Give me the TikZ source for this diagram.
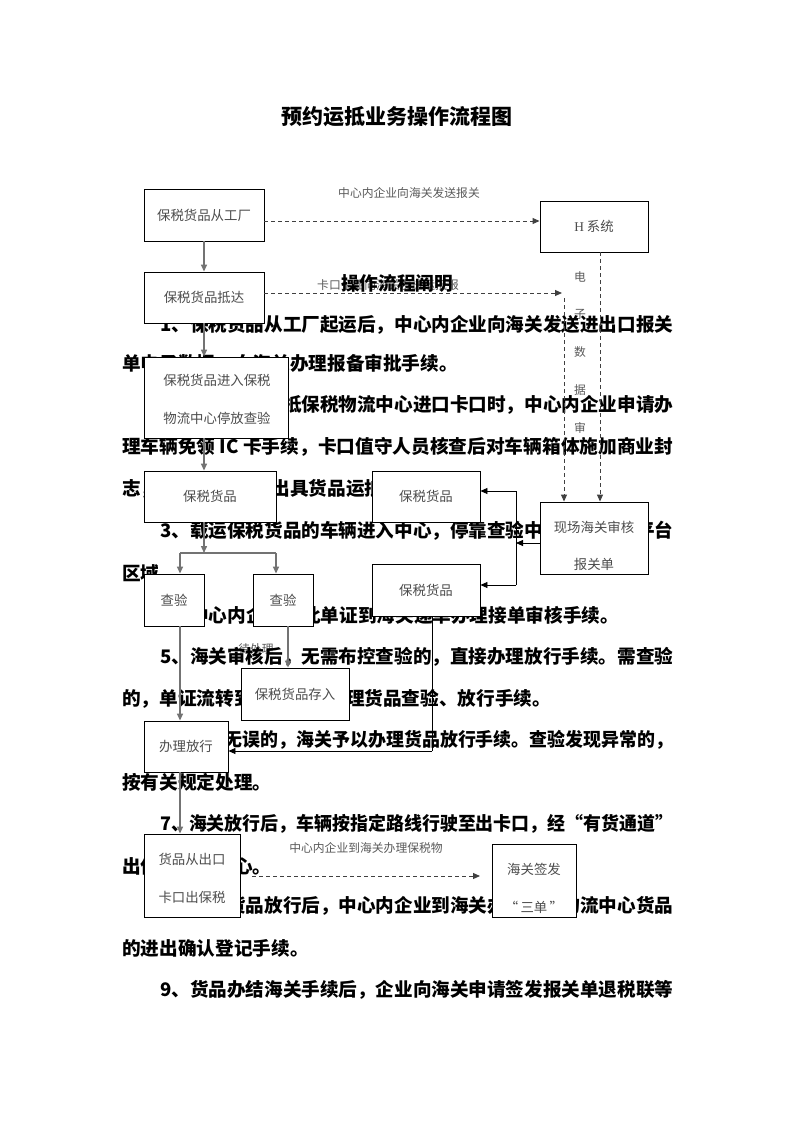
\documentclass[tikz,border=0pt]{standalone}
\usepackage{graphicx}
\usepackage{fontspec}
\setmainfont{Noto Sans CJK SC}
\newfontfamily\cjk{Noto Sans CJK SC}
\newfontfamily\lserif{Liberation Serif}
\usetikzlibrary{arrows.meta}
\newcommand\myBody{\cjk\bfseries\fontsize{18.65}{20}\selectfont}
\newcommand\myTitle{\cjk\bfseries\fontsize{21}{23}\selectfont}
\newcommand\myBox{\cjk\fontsize{13.4}{15}\selectfont}
\newcommand\myLbl{\cjk\fontsize{11.8}{13}\selectfont}
\newcommand\fitI[1]{\resizebox{513pt}{\height}{#1}}
\newcommand\fitF[1]{\resizebox{551pt}{\height}{#1}}
\begin{document}
\begin{tikzpicture}[x=1pt,y=-1pt,
  body/.style={anchor=west,inner sep=0pt,font=\myBody,text=black},
  ttl/.style={inner sep=0pt,font=\myTitle,text=black},
  boxn/.style={draw=black,line width=0.9pt,fill=white,inner sep=0pt,font=\myBox,text=black!70},
  btxt/.style={inner sep=0pt,font=\myBox,text=black!70},
  lbl/.style={inner sep=0pt,font=\myLbl,text=black!65},
  garrow/.style={draw=black!55,line width=1.4pt,-{Triangle[length=7pt,width=6pt]}},
  gline/.style={draw=black!55,line width=1.4pt},
  tarrow/.style={draw=black,line width=0.8pt,-{Triangle[length=7pt,width=6pt]}},
  tline/.style={draw=black,line width=0.8pt},
  darrow/.style={draw=black!75,line width=1pt,dash pattern=on 4pt off 3pt,-{Triangle[length=7pt,width=6pt]}},
  dline/.style={draw=black!75,line width=1pt,dash pattern=on 4pt off 3pt}
]
\useasboundingbox (0,0) rectangle (793,1122);
\fill[white] (0,0) rectangle (793,1122);

% ---------- small labels (behind text) ----------
\node[lbl] (l1) at (409,193) {中心内企业向海关发送报关};
\node[lbl] (l2) at (388,285) {卡口企业向海关发送运抵报};
\node[lbl] (l3) at (366,848) {中心内企业到海关办理保税物};
\node[lbl] (l4) at (256,649) {待处理};
\node[lbl] (v1) at (580,277) {电};
\node[lbl] (v2) at (580,314) {子};
\node[lbl] (v3) at (580,352) {数};
\node[lbl] (v4) at (580,390) {据};
\node[lbl] (v5) at (580,428) {审};

% ---------- title and text ----------
\node[ttl] (title) at (397,117) {预约运抵业务操作流程图};
\node[ttl,font=\myBody] (head) at (397,283) {操作流程阐明};
\node[body] (t1)  at (160,325) {\fitI{1、保税货品从工厂起运后，中心内企业向海关发送进出口报关}};
\node[body] (t2)  at (122,364) {单电子数据，向海关办理报备审批手续。};
\node[body] (t3)  at (160,405) {\fitI{2、保税货品运抵保税物流中心进口卡口时，中心内企业申请办}};
\node[body] (t4)  at (122,447) {\fitF{理车辆免领 IC 卡手续，卡口值守人员核查后对车辆箱体施加商业封}};
\node[body] (t5)  at (122,489) {志，卡口值守人员出具货品运抵单。};
\node[body] (t6)  at (160,531) {\fitI{3、载运保税货品的车辆进入中心，停靠查验中心指定查验平台}};
\node[body] (t7)  at (122,573) {区域。};
\node[body] (t8)  at (160,615) {4、中心内企业凭此单证到海关递单办理接单审核手续。};
\node[body] (t9)  at (160,657) {\fitI{5、海关审核后，无需布控查验的，直接办理放行手续。需查验}};
\node[body] (t10) at (122,699) {的，单证流转到查验部门办理货品查验、放行手续。};
\node[body] (t11) at (160,740) {\fitI{6、查验无误的，海关予以办理货品放行手续。查验发现异常的，}};
\node[body] (t12) at (122,782) {按有关规定处理。};
\node[body] (t13) at (160,824) {\fitI{7、海关放行后，车辆按指定路线行驶至出卡口，经“有货通道”}};
\node[body] (t14) at (122,866) {出保税物流中心。};
\node[body] (t15) at (160,906) {\fitI{8、出口货品放行后，中心内企业到海关办理保税物流中心货品}};
\node[body] (t16) at (122,948) {的进出确认登记手续。};
\node[body] (t17) at (160,990) {\fitI{9、货品办结海关手续后，企业向海关申请签发报关单退税联等}};

% ---------- boxes ----------
\node[boxn,minimum width=120pt,minimum height=52pt] (b1) at (204,215) {保税货品从工厂};
\node[boxn,minimum width=108pt,minimum height=51pt] (hs) at (594,226.5) {{\lserif H} 系统};
\node[boxn,minimum width=120pt,minimum height=51pt] (b3) at (204,297.5) {保税货品抵达};
\node[boxn,minimum width=144pt,minimum height=81pt] (b4) at (216,397.5) {};
\node[btxt] (b4a) at (217,380) {保税货品进入保税};
\node[btxt] (b4b) at (217,418) {物流中心停放查验};
\node[boxn,minimum width=132pt,minimum height=51pt] (b5) at (210,496.5) {保税货品};
\node[boxn,minimum width=108pt,minimum height=51pt] (b6) at (426,496.5) {保税货品};
\node[boxn,minimum width=108pt,minimum height=72pt] (xc) at (594,538) {};
\node[btxt] (xca) at (594,527) {现场海关审核};
\node[btxt] (xcb) at (594,564) {报关单};
\node[boxn,minimum width=108pt,minimum height=52pt] (b8) at (426,590) {保税货品};
\node[boxn,minimum width=60pt,minimum height=52pt] (cyl) at (174,600) {查验};
\node[boxn,minimum width=60pt,minimum height=52pt] (cyr) at (283,600) {查验};
\node[boxn,minimum width=108pt,minimum height=52pt] (cr) at (295,694) {保税货品存入};
\node[boxn,minimum width=84pt,minimum height=51pt] (fx) at (186,746.5) {办理放行};
\node[boxn,minimum width=96pt,minimum height=83pt] (ck) at (192,875.5) {};
\node[btxt] (cka) at (192,859) {货品从出口};
\node[btxt] (ckb) at (192,897) {卡口出保税};
\node[boxn,minimum width=84pt,minimum height=73pt] (sd) at (534,880.5) {};
\node[btxt] (sda) at (534,869) {海关签发};
\node[btxt] (sdb) at (534,907) {“\,三单\,”};

% ---------- helper coordinates ----------
\coordinate (cx) at (204,0);
\coordinate (jn) at (204,553);
\coordinate (jl) at (180,553);
\coordinate (jr) at (276,553);
\coordinate (c2) at (180,0);
\coordinate (c3) at (288,0);
\coordinate (tx) at (432,751);
\coordinate (d1) at (0,221);
\coordinate (d2e) at (562,293);
\coordinate (d2v) at (564,298);
\coordinate (hx) at (600,0);
\coordinate (br) at (516,543);
\coordinate (bt) at (516,491);
\coordinate (bb) at (516,585);
\coordinate (d3s) at (252,876);
\coordinate (d3e) at (480,876);

% ---------- connectors ----------
\draw[garrow] (b1.south -| cx) -- (b3.north -| cx);
\draw[garrow] (b3.south -| cx) -- (b4.north -| cx);
\draw[garrow] (b4.south -| cx) -- (b5.north -| cx);
\draw[garrow] (b5.south -| cx) -- (jn);
\draw[gline] (jl) -- (jr);
\draw[garrow] (jl) -- (jl |- cyl.north);
\draw[garrow] (jr) -- (jr |- cyr.north);
\draw[garrow] (cyl.south -| c2) -- (fx.north -| c2);
\draw[garrow] (cyr.south -| c3) -- (cr.north -| c3);
\draw[garrow] (fx.south -| c2) -- (ck.north -| c2);
\draw[tline] (b8.south -| tx) -- (tx);
\draw[tarrow] (tx) -- (fx.east |- tx);

\draw[darrow] (b1.east |- d1) -- (hs.west |- d1);
\draw[darrow] (b3.east |- d2e) -- (d2e);
\draw[darrow] (d2v) -- (d2v |- xc.north);
\draw[darrow] (hs.south -| hx) -- (xc.north -| hx);
\draw[darrow] (d3s) -- (d3e);

\draw[tarrow] (xc.west |- br) -- (br);
\draw[tline] (bt) -- (bb);
\draw[tarrow] (bt) -- (b6.east |- bt);
\draw[tarrow] (bb) -- (b8.east |- bb);
\end{tikzpicture}
\end{document}
